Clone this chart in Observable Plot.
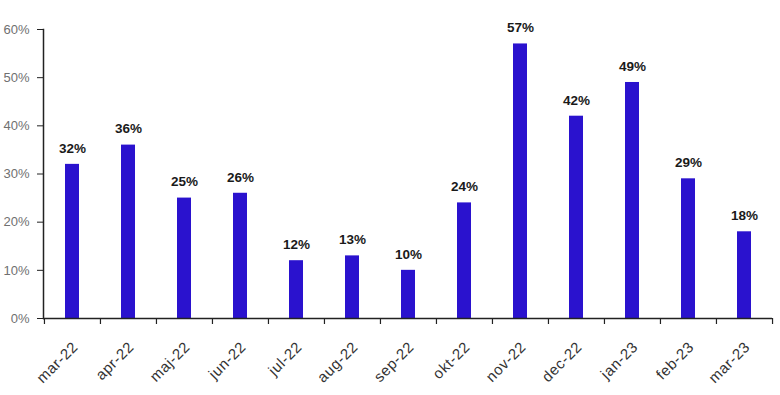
<!DOCTYPE html>
<html>
<head>
<meta charset="utf-8">
<script src="https://cdn.jsdelivr.net/npm/d3@7"></script>
<script src="https://cdn.jsdelivr.net/npm/@observablehq/plot@0.6"></script>
<style>
  html, body { margin: 0; padding: 0; background: #fff; }
  #chart { width: 780px; height: 395px; }
  .xlab text { letter-spacing: 0.6px; }
</style>
</head>
<body>
<div id="chart"></div>
<script>
const months = ["mar-22","apr-22","maj-22","jun-22","jul-22","aug-22","sep-22","okt-22","nov-22","dec-22","jan-23","feb-23","mar-23"];
const values = [32, 36, 25, 26, 12, 13, 10, 24, 57, 42, 49, 29, 18];
const yTicks = [0, 10, 20, 30, 40, 50, 60];

const data = months.map((m, i) => ({month: m, value: values[i]}));

const W = 780, H = 395;
const mL = 43, mR = 8, mT = 29, mB = 77;
const step = (W - mL - mR) / months.length;
const plotH = H - mT - mB;
const tickLen = 6 * 60 / plotH; // 6px in data units

const chart = Plot.plot({
  width: W,
  height: H,
  marginLeft: mL,
  marginRight: mR,
  marginTop: mT,
  marginBottom: mB,
  style: {fontFamily: "'Liberation Sans', Arial, sans-serif", fontSize: "13px", background: "#fff"},
  x: {domain: months, paddingInner: 0.75, paddingOuter: 0.375, label: null, axis: null},
  y: {domain: [0, 60], label: null},
  marks: [
    Plot.barY(data, {x: "month", y: "value", fill: "#2A12CE"}),
    Plot.text(data, {x: "month", y: "value", text: d => d.value + "%", dy: -16, lineAnchor: "middle",
      fontWeight: "bold", fontSize: 13.5, fill: "#1a1a1a"}),
    Plot.axisY({ticks: yTicks, tickFormat: d => d + "%", tickSize: 6, tickPadding: 8,
      color: "#707070", stroke: "#222", label: null}),
    Plot.text(months, {x: d => d, y: 0, text: d => d, rotate: -45, textAnchor: "end", lineAnchor: "middle",
      dx: 3, dy: 26, fontSize: 15, fill: "#333", className: "xlab"}),
    Plot.ruleX(months, {x: d => d, dx: -step / 2, y1: 0, y2: -tickLen, stroke: "#222", strokeWidth: 1.2}),
    Plot.ruleX([months[months.length - 1]], {x: d => d, dx: step / 2, y1: 0, y2: -tickLen, stroke: "#222", strokeWidth: 1.2}),
    Plot.ruleY([0], {stroke: "#222", strokeWidth: 1.5}),
    Plot.frame({anchor: "left", stroke: "#222", strokeWidth: 1.5})
  ]
});
document.getElementById("chart").appendChild(chart);
</script>
</body>
</html>
